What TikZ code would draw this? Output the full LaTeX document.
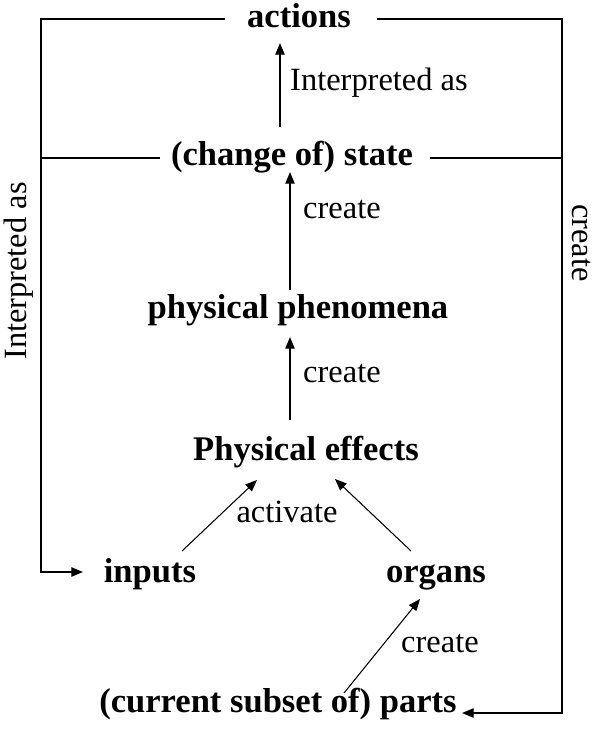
\documentclass[tikz,border=0pt]{standalone}
\usepackage{fontspec}
\setmainfont{Liberation Serif}
\usetikzlibrary{arrows.meta,calc}
\begin{document}
\begin{tikzpicture}
            [x=0.03cm, y=-0.03cm,
            term/.style={anchor=base, inner sep=0pt, font=\fontsize{29.5}{32}\selectfont\bfseries},
            lbl/.style={anchor=base west, inner sep=0pt, font=\fontsize{27.7}{30}\selectfont},
            edge/.style={line width=1.2pt, -{Triangle[length=10pt,width=8pt]}},
            thin edge/.style={line width=0.9pt, -{Triangle[length=10pt,width=8pt]}},
            line/.style={line width=1.2pt}]

            \useasboundingbox (0,0) rectangle (595,729);

            \node[term] (actions) at (299,27) {actions};
            \node[term] (state) at (292,165) {(change of) state};
            \node[term] (phen) at (298,318) {physical phenomena};
            \node[term] (effects) at (306,460) {Physical effects};
            \node[term] (inputs) at (150,582) {inputs};
            \node[term] (organs) at (436,582) {organs};
            \node[term] (parts) at (278,712) {(current subset of) parts};

            % Corners of the two loops
            \coordinate (tl) at (41,19);
            \coordinate (tr) at (562,19);
            \coordinate (sl) at (41,158);
            \coordinate (sr) at (562,158);
            \coordinate (bl) at (41,572);
            \coordinate (br) at (562,713);

            % Main chain
            \draw[edge] ($(state.base)+(-12,-38)$) -- ($(actions.base)+(-19,16)$);
            \draw[edge] ($(phen.base)+(-8,-28)$) -- ($(state.base)+(-2,7)$);
            \draw[edge] ($(effects.base)+(-16,-40)$) -- ($(phen.base)+(-8,19)$);
            \draw[thin edge] ($(inputs.base)+(32,-31)$) -- ($(effects.base)+(-49,20)$);
            \draw[thin edge] ($(organs.base)+(-25,-31)$) -- ($(effects.base)+(29,19)$);
            \draw[thin edge] ($(parts.base)+(66,-19)$) -- ($(organs.base)+(-16,17)$);

            % Loops back to inputs and parts
            \draw[edge] ($(actions.base)+(-74,-8)$) -- (tl) -- (bl) -- ($(inputs.base)+(-67,-10)$);
            \draw[line] ($(state.base)+(-132,-7)$) -- (sl);
            \draw[edge] ($(actions.base)+(78,-8)$) -- (tr) -- (br) -- ($(parts.base)+(184,1)$);
            \draw[line] ($(state.base)+(138,-7)$) -- (sr);

            % Labels
            \node[lbl] (l1) at (290,90) {Interpreted as};
            \node[lbl] (l2) at (303,218) {create};
            \node[lbl] (l3) at (303,382) {create};
            \node[lbl, anchor=base] (l4) at (287,522) {activate};
            \node[lbl] (l5) at (401,652) {create};
            \node[lbl, anchor=center, rotate=90] (l6) at (19,271) {Interpreted as};
            \node[lbl, anchor=center, rotate=-90] (l7) at (581,243) {create};

\end{tikzpicture}
\end{document}
